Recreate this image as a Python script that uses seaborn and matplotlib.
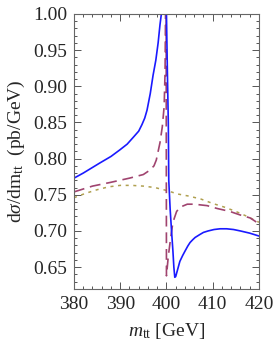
import matplotlib
matplotlib.use("Agg")
import matplotlib.pyplot as plt
from matplotlib.ticker import MultipleLocator, FormatStrFormatter
import seaborn as sns
import pandas as pd

# ---- data ----
solid_x = [380, 382, 385.6, 388, 389.9, 391.5, 392.9, 394.0, 394.7, 395.3, 395.8, 396.5, 397.1,
           397.7, 398.2, 398.6, 398.9, 399.2, 399.9, 400.0, 400.2, 400.4, 400.5, 400.8,
           401.1, 401.4, 401.6, 401.8, 402.0, 402.3, 402.9, 403.5, 404.0, 404.6, 405.1,
           405.7, 406.2, 407.2, 408.0, 409.0, 410.3, 411.6, 413.0, 414.5, 416.0, 418.0, 420]
solid_y = [0.773, 0.780, 0.794, 0.803, 0.812, 0.820, 0.830, 0.838, 0.847, 0.856, 0.867, 0.890, 0.915,
           0.936, 0.960, 0.985, 1.000, 1.150, 1.150, 1.000, 0.920, 0.850, 0.770, 0.730,
           0.700, 0.672, 0.650, 0.636, 0.637, 0.644, 0.658, 0.666, 0.672, 0.679, 0.684,
           0.688, 0.691, 0.695, 0.698, 0.700, 0.702, 0.703, 0.703, 0.702, 0.700, 0.697, 0.693]

dashed_x = [380, 384, 387.8, 392, 395.0, 396.4, 397.3, 397.8, 398.6, 399.1, 399.5, 399.7, 399.8,
            399.85, 399.9, 400.0, 400.4, 400.9, 401.4, 402.2, 403.0, 404.5, 406.0, 408.8,
            411.0, 413.7, 416.0, 418.1, 420]
dashed_y = [0.754, 0.762, 0.767, 0.773, 0.778, 0.784, 0.790, 0.798, 0.822, 0.844, 0.872, 0.920, 1.000,
            1.150, 1.150, 0.638, 0.665, 0.690, 0.712, 0.727, 0.733, 0.737, 0.737, 0.735,
            0.731, 0.727, 0.722, 0.718, 0.710]

dotted_x = [380, 382.5, 385, 387.5, 390, 392.5, 395, 397.5, 400, 402.5, 405, 407.5,
            410, 412.5, 415, 417.5, 420]
dotted_y = [0.746, 0.752, 0.757, 0.761, 0.763, 0.763, 0.762, 0.760, 0.756, 0.751, 0.748, 0.744,
            0.738, 0.733, 0.727, 0.720, 0.712]

x_ticks = [380, 390, 400, 410, 420]
y_ticks = [0.65, 0.70, 0.75, 0.80, 0.85, 0.90, 0.95, 1.00]

sns.set_style("ticks")
plt.rcParams['font.family'] = ['Liberation Serif', 'DejaVu Serif']
plt.rcParams['mathtext.fontset'] = 'custom'
plt.rcParams['mathtext.rm'] = 'Liberation Serif'
plt.rcParams['mathtext.it'] = 'Liberation Serif:italic'

fig = plt.figure(figsize=(2.74, 3.48), dpi=100)
ax = fig.add_axes([0.270, 0.170, 0.675, 0.790])

df_s = pd.DataFrame({"x": solid_x, "y": solid_y})
df_d = pd.DataFrame({"x": dashed_x, "y": dashed_y})
df_o = pd.DataFrame({"x": dotted_x, "y": dotted_y})

sns.lineplot(data=df_o, x="x", y="y", ax=ax, sort=False, estimator=None,
             color="#b0a050", lw=1.1)
ax.lines[-1].set_dashes([2.0, 3.0])
sns.lineplot(data=df_d, x="x", y="y", ax=ax, sort=False, estimator=None,
             color="#a0446f", lw=1.2)
ax.lines[-1].set_dashes([6.5, 3.5])
sns.lineplot(data=df_s, x="x", y="y", ax=ax, sort=False, estimator=None,
             color="#1a1aff", lw=1.2)

ax.set_xlim(380, 420)
ax.set_ylim(0.62, 1.00)
ax.set_xticks(x_ticks)
ax.set_yticks(y_ticks)
ax.yaxis.set_major_formatter(FormatStrFormatter("%.2f"))
ax.xaxis.set_minor_locator(MultipleLocator(2))
ax.yaxis.set_minor_locator(MultipleLocator(0.01))
ax.tick_params(which="both", direction="in", top=True, right=True,
               color="#555555", labelsize=14, width=0.7)
ax.tick_params(which="major", length=5, pad=5)
ax.tick_params(which="minor", length=2.5)
for s in ax.spines.values():
    s.set_color("#666666")
    s.set_linewidth(0.8)

ax.set_xlabel(r"$m_{\rm tt}$ [GeV]", fontsize=14, labelpad=6)
ax.set_ylabel(r"d$\sigma$/dm$_{\rm tt}$  (pb/GeV)", fontsize=14, labelpad=4)

fig.savefig("out.png", dpi=100)
